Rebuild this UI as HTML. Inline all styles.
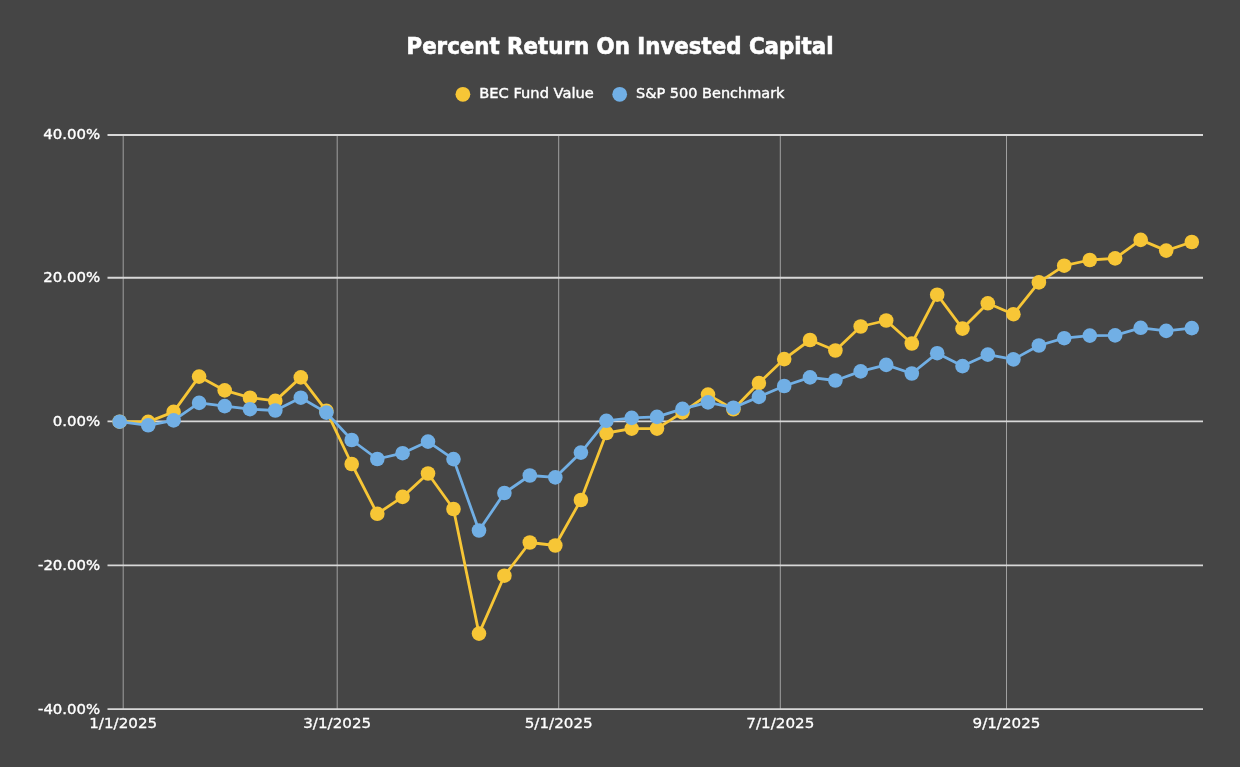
<!DOCTYPE html>
<html lang="en"><head><meta charset="utf-8"><title>Percent Return On Invested Capital</title>
<style>
html,body{margin:0;padding:0;background:#454545;}
body{width:1240px;height:767px;overflow:hidden;}
svg{display:block;}
text{font-family:"DejaVu Sans","Liberation Sans",sans-serif;fill:#ffffff;}
.t{font-family:"DejaVu Sans Condensed","DejaVu Sans","Liberation Sans",sans-serif;font-weight:bold;font-size:23.4px;stroke:#fff;stroke-width:0.6px;}
.l{font-size:14.3px;stroke:#fff;stroke-width:0.4px;}
.a{font-size:14.6px;stroke:#fff;stroke-width:0.38px;}
.x{font-size:14.6px;stroke:#fff;stroke-width:0.3px;}
</style></head><body>
<svg width="1240" height="767" viewBox="0 0 1240 767">
<rect width="1240" height="767" fill="#454545"/>
<line x1="123.2" y1="135" x2="123.2" y2="709" stroke="#a0a0a0" stroke-width="1"/>
<line x1="337.2" y1="135" x2="337.2" y2="709" stroke="#a0a0a0" stroke-width="1"/>
<line x1="558.7" y1="135" x2="558.7" y2="709" stroke="#a0a0a0" stroke-width="1"/>
<line x1="780.3" y1="135" x2="780.3" y2="709" stroke="#a0a0a0" stroke-width="1"/>
<line x1="1006.5" y1="135" x2="1006.5" y2="709" stroke="#a0a0a0" stroke-width="1"/>
<line x1="107.5" y1="135" x2="1203" y2="135" stroke="#d8d8d8" stroke-width="1.85"/>
<line x1="107.5" y1="277.7" x2="1203" y2="277.7" stroke="#d8d8d8" stroke-width="1.85"/>
<line x1="107.5" y1="421.4" x2="1203" y2="421.4" stroke="#d8d8d8" stroke-width="1.85"/>
<line x1="107.5" y1="565.3" x2="1203" y2="565.3" stroke="#d8d8d8" stroke-width="1.85"/>
<line x1="107.5" y1="709.1" x2="1203" y2="709.1" stroke="#d8d8d8" stroke-width="1.85"/>
<text class="a" x="43.2" y="138.7" textLength="57" lengthAdjust="spacingAndGlyphs">40.00%</text>
<text class="a" x="43.2" y="282.0" textLength="57" lengthAdjust="spacingAndGlyphs">20.00%</text>
<text class="a" x="52.7" y="426.4" textLength="47.5" lengthAdjust="spacingAndGlyphs">0.00%</text>
<text class="a" x="38.0" y="570.1" textLength="62.2" lengthAdjust="spacingAndGlyphs">-20.00%</text>
<text class="a" x="38.0" y="714.0" textLength="62.2" lengthAdjust="spacingAndGlyphs">-40.00%</text>
<text class="x" x="89.2" y="728.4" textLength="68" lengthAdjust="spacingAndGlyphs">1/1/2025</text>
<text class="x" x="303.2" y="728.4" textLength="68" lengthAdjust="spacingAndGlyphs">3/1/2025</text>
<text class="x" x="524.7" y="728.4" textLength="68" lengthAdjust="spacingAndGlyphs">5/1/2025</text>
<text class="x" x="746.3" y="728.4" textLength="68" lengthAdjust="spacingAndGlyphs">7/1/2025</text>
<text class="x" x="972.5" y="728.4" textLength="68" lengthAdjust="spacingAndGlyphs">9/1/2025</text>
<text class="t" x="406.5" y="54.4" textLength="427" lengthAdjust="spacingAndGlyphs">Percent Return On Invested Capital</text>
<circle cx="462.9" cy="94.3" r="7.4" fill="#F7C636"/><text class="l" x="479.3" y="98.2" textLength="114.5" lengthAdjust="spacingAndGlyphs">BEC Fund Value</text>
<circle cx="619.7" cy="94.3" r="7.4" fill="#71AFE5"/><text class="l" x="636" y="98.2" textLength="148.5" lengthAdjust="spacingAndGlyphs">S&amp;P 500 Benchmark</text>
<g fill="#F7C636"><polyline points="119.6,421.7 148.2,421.9 173.6,411.9 199.1,376.6 224.7,390.4 250.0,397.7 275.3,400.9 300.8,377.4 326.4,410.8 351.7,464.0 377.3,513.8 402.6,496.9 428.0,473.5 453.5,509.0 479.0,633.6 504.4,575.7 529.8,542.5 555.3,545.5 580.9,500.0 606.4,433.0 631.7,428.6 657.0,428.6 682.5,412.4 708.0,394.6 733.4,409.3 758.9,383.1 784.2,359.1 810.0,340.0 835.4,350.5 860.7,326.5 886.2,320.5 911.8,343.5 937.2,294.7 962.5,328.6 987.8,303.3 1013.4,314.2 1038.9,282.4 1064.2,265.7 1089.8,260.0 1115.1,258.4 1140.7,239.9 1166.2,250.6 1191.8,242.0" fill="none" stroke="#F7C636" stroke-width="2.8" stroke-linejoin="round"/>
<circle cx="119.6" cy="421.7" r="7.3"/>
<circle cx="148.2" cy="421.9" r="7.3"/>
<circle cx="173.6" cy="411.9" r="7.3"/>
<circle cx="199.1" cy="376.6" r="7.3"/>
<circle cx="224.7" cy="390.4" r="7.3"/>
<circle cx="250.0" cy="397.7" r="7.3"/>
<circle cx="275.3" cy="400.9" r="7.3"/>
<circle cx="300.8" cy="377.4" r="7.3"/>
<circle cx="326.4" cy="410.8" r="7.3"/>
<circle cx="351.7" cy="464.0" r="7.3"/>
<circle cx="377.3" cy="513.8" r="7.3"/>
<circle cx="402.6" cy="496.9" r="7.3"/>
<circle cx="428.0" cy="473.5" r="7.3"/>
<circle cx="453.5" cy="509.0" r="7.3"/>
<circle cx="479.0" cy="633.6" r="7.3"/>
<circle cx="504.4" cy="575.7" r="7.3"/>
<circle cx="529.8" cy="542.5" r="7.3"/>
<circle cx="555.3" cy="545.5" r="7.3"/>
<circle cx="580.9" cy="500.0" r="7.3"/>
<circle cx="606.4" cy="433.0" r="7.3"/>
<circle cx="631.7" cy="428.6" r="7.3"/>
<circle cx="657.0" cy="428.6" r="7.3"/>
<circle cx="682.5" cy="412.4" r="7.3"/>
<circle cx="708.0" cy="394.6" r="7.3"/>
<circle cx="733.4" cy="409.3" r="7.3"/>
<circle cx="758.9" cy="383.1" r="7.3"/>
<circle cx="784.2" cy="359.1" r="7.3"/>
<circle cx="810.0" cy="340.0" r="7.3"/>
<circle cx="835.4" cy="350.5" r="7.3"/>
<circle cx="860.7" cy="326.5" r="7.3"/>
<circle cx="886.2" cy="320.5" r="7.3"/>
<circle cx="911.8" cy="343.5" r="7.3"/>
<circle cx="937.2" cy="294.7" r="7.3"/>
<circle cx="962.5" cy="328.6" r="7.3"/>
<circle cx="987.8" cy="303.3" r="7.3"/>
<circle cx="1013.4" cy="314.2" r="7.3"/>
<circle cx="1038.9" cy="282.4" r="7.3"/>
<circle cx="1064.2" cy="265.7" r="7.3"/>
<circle cx="1089.8" cy="260.0" r="7.3"/>
<circle cx="1115.1" cy="258.4" r="7.3"/>
<circle cx="1140.7" cy="239.9" r="7.3"/>
<circle cx="1166.2" cy="250.6" r="7.3"/>
<circle cx="1191.8" cy="242.0" r="7.3"/>
</g>
<g fill="#71AFE5"><polyline points="119.6,421.7 148.2,425.3 173.6,420.4 199.1,402.9 224.7,406.1 250.0,409.2 275.3,410.5 300.8,397.7 326.4,412.6 351.7,440.0 377.3,459.0 402.6,453.2 428.0,441.6 453.5,459.1 479.0,530.5 504.4,493.0 529.8,475.5 555.3,477.4 580.9,452.6 606.4,420.8 631.7,417.9 657.0,416.9 682.5,408.8 708.0,402.4 733.4,407.7 758.9,396.9 784.2,386.0 810.0,377.4 835.4,380.5 860.7,371.4 886.2,364.9 911.8,373.5 937.2,353.2 962.5,366.1 987.8,354.6 1013.4,359.4 1038.9,345.5 1064.2,338.2 1089.8,335.6 1115.1,335.4 1140.7,327.8 1166.2,330.9 1191.8,328.1" fill="none" stroke="#71AFE5" stroke-width="2.8" stroke-linejoin="round"/>
<circle cx="119.6" cy="421.7" r="7.3"/>
<circle cx="148.2" cy="425.3" r="7.3"/>
<circle cx="173.6" cy="420.4" r="7.3"/>
<circle cx="199.1" cy="402.9" r="7.3"/>
<circle cx="224.7" cy="406.1" r="7.3"/>
<circle cx="250.0" cy="409.2" r="7.3"/>
<circle cx="275.3" cy="410.5" r="7.3"/>
<circle cx="300.8" cy="397.7" r="7.3"/>
<circle cx="326.4" cy="412.6" r="7.3"/>
<circle cx="351.7" cy="440.0" r="7.3"/>
<circle cx="377.3" cy="459.0" r="7.3"/>
<circle cx="402.6" cy="453.2" r="7.3"/>
<circle cx="428.0" cy="441.6" r="7.3"/>
<circle cx="453.5" cy="459.1" r="7.3"/>
<circle cx="479.0" cy="530.5" r="7.3"/>
<circle cx="504.4" cy="493.0" r="7.3"/>
<circle cx="529.8" cy="475.5" r="7.3"/>
<circle cx="555.3" cy="477.4" r="7.3"/>
<circle cx="580.9" cy="452.6" r="7.3"/>
<circle cx="606.4" cy="420.8" r="7.3"/>
<circle cx="631.7" cy="417.9" r="7.3"/>
<circle cx="657.0" cy="416.9" r="7.3"/>
<circle cx="682.5" cy="408.8" r="7.3"/>
<circle cx="708.0" cy="402.4" r="7.3"/>
<circle cx="733.4" cy="407.7" r="7.3"/>
<circle cx="758.9" cy="396.9" r="7.3"/>
<circle cx="784.2" cy="386.0" r="7.3"/>
<circle cx="810.0" cy="377.4" r="7.3"/>
<circle cx="835.4" cy="380.5" r="7.3"/>
<circle cx="860.7" cy="371.4" r="7.3"/>
<circle cx="886.2" cy="364.9" r="7.3"/>
<circle cx="911.8" cy="373.5" r="7.3"/>
<circle cx="937.2" cy="353.2" r="7.3"/>
<circle cx="962.5" cy="366.1" r="7.3"/>
<circle cx="987.8" cy="354.6" r="7.3"/>
<circle cx="1013.4" cy="359.4" r="7.3"/>
<circle cx="1038.9" cy="345.5" r="7.3"/>
<circle cx="1064.2" cy="338.2" r="7.3"/>
<circle cx="1089.8" cy="335.6" r="7.3"/>
<circle cx="1115.1" cy="335.4" r="7.3"/>
<circle cx="1140.7" cy="327.8" r="7.3"/>
<circle cx="1166.2" cy="330.9" r="7.3"/>
<circle cx="1191.8" cy="328.1" r="7.3"/>
</g>
</svg></body></html>
